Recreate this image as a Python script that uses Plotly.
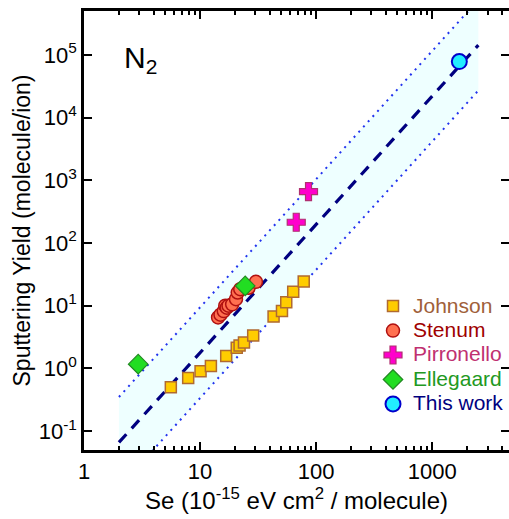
import plotly.graph_objects as go

# ---- data ----
johnson_se = [5.6, 7.9, 10.1, 12.4, 16.8, 20.7, 21.9, 23.9, 28.7, 43, 50.8, 55.3, 63.5, 78.2]
johnson_y = [0.50, 0.70, 0.90, 1.09, 1.57, 2.14, 2.32, 2.59, 3.35, 6.7, 8.2, 11.4, 16.7, 24.3]

stenum_se = [14.3, 15.0, 16.0, 16.5, 17.0, 17.6, 18.9, 20.4, 21.1, 22.2, 26.2, 30.3]
stenum_y = [6.5, 7.2, 8.2, 10.0, 9.3, 10.0, 10.5, 12.7, 16.2, 18.3, 19.3, 24.0]

pirronello_se = [67.4, 86]
pirronello_y = [214, 658]

ellegaard_se = [2.93, 24.5]
ellegaard_y = [1.17, 20.7]

thiswork_se = [1714]
thiswork_y = [7.8e4]
thiswork_err_plus = [1.5e4]
thiswork_err_minus = [1.2e4]

fit_se = [2, 2500]
fit_y = [0.066, 1.43e5]
band_upper = [0.35, 7.5e5]
band_lower = [0.0125, 2.7e4]

x_tickvals = [1, 10, 100, 1000]
x_ticktext = ["1", "10", "100", "1000"]
y_tickvals = [0.1, 1, 10, 100, 1000, 1e4, 1e5]
y_ticktext = ["10<sup>-1</sup>", "10<sup>0</sup>", "10<sup>1</sup>", "10<sup>2</sup>",
              "10<sup>3</sup>", "10<sup>4</sup>", "10<sup>5</sup>"]

FONT = "Liberation Sans, Arial, Helvetica, sans-serif"


def legend_label(text, color):
    return f"<span style='color:{color};font-size:21px'>{text}</span>"


fig = go.Figure()

# shaded band
fig.add_trace(go.Scatter(x=fit_se, y=band_lower, mode="lines", line=dict(width=0),
                         showlegend=False, hoverinfo="skip"))
fig.add_trace(go.Scatter(x=fit_se, y=band_upper, mode="lines", line=dict(width=0),
                         fill="tonexty", fillcolor="#EEFFFF", showlegend=False, hoverinfo="skip"))
# dotted bounds
for yy in (band_upper, band_lower):
    fig.add_trace(go.Scatter(x=fit_se, y=yy, mode="lines",
                             line=dict(color="#2233EE", width=2, dash="2px,5px"),
                             showlegend=False, hoverinfo="skip"))
# dashed fit
fig.add_trace(go.Scatter(x=fit_se, y=fit_y, mode="lines",
                         line=dict(color="#000080", width=3.2, dash="11px,8px"),
                         showlegend=False, hoverinfo="skip"))

fig.add_trace(go.Scatter(
    x=johnson_se, y=johnson_y, mode="markers",
    name=legend_label("Johnson", "#A0603A"),
    marker=dict(symbol="square", size=11, color="#FFCC00", line=dict(color="#B06A30", width=1.5))))
fig.add_trace(go.Scatter(
    x=stenum_se, y=stenum_y, mode="markers",
    name=legend_label("Stenum", "#A00000"),
    marker=dict(symbol="circle", size=13, color="#FF7050", line=dict(color="#B01010", width=1.5))))
fig.add_trace(go.Scatter(
    x=pirronello_se, y=pirronello_y, mode="markers",
    name=legend_label("Pirronello", "#C03070"),
    marker=dict(symbol="cross", size=15, color="#FF00CC", line=dict(color="#B03070", width=1.2))))
fig.add_trace(go.Scatter(
    x=ellegaard_se, y=ellegaard_y, mode="markers",
    name=legend_label("Ellegaard", "#229922"),
    marker=dict(symbol="diamond", size=15, color="#22DD22", line=dict(color="#228822", width=1.2))))
fig.add_trace(go.Scatter(
    x=thiswork_se, y=thiswork_y, mode="markers",
    name=legend_label("This work", "#000080"),
    error_y=dict(type="data", array=thiswork_err_plus, arrayminus=thiswork_err_minus,
                 color="black", thickness=3, width=3),
    marker=dict(symbol="circle", size=15, color="#22EEFF", line=dict(color="#0000CC", width=2))))

axis_common = dict(
    type="log", showgrid=False, zeroline=False, showline=True, linecolor="black",
    linewidth=2.5, mirror="allticks", ticks="inside", tickcolor="black", tickwidth=2,
    tickfont=dict(family=FONT, size=22, color="black"), automargin=False,
)

fig.update_xaxes(**axis_common, range=[0, 3.662], tickvals=x_tickvals, ticktext=x_ticktext,
                 ticklen=8,
                 minor=dict(ticks="inside", ticklen=4, tickwidth=1.5, tickcolor="black",
                            dtick="D1", showgrid=False),
                 title=dict(text="Se (10<sup>-15</sup> eV cm<sup>2</sup> / molecule)",
                            font=dict(family=FONT, size=24, color="black"), standoff=0))
fig.update_yaxes(**axis_common, range=[-1.301, 5.699], tickvals=y_tickvals, ticktext=y_ticktext,
                 ticklen=8,
                 title=dict(text="Sputtering Yield (molecule/ion)",
                            font=dict(family=FONT, size=23, color="black"), standoff=2))

fig.add_annotation(text="N<sub>2</sub>", x=0.09, y=0.89, xref="paper", yref="paper",
                   xanchor="left", yanchor="middle", showarrow=False,
                   font=dict(family=FONT, size=30, color="black"))

fig.update_layout(
    template="none",
    width=509, height=519,
    margin=dict(l=84, r=0, t=11, b=69, pad=0),
    paper_bgcolor="white", plot_bgcolor="white",
    showlegend=True,
    legend=dict(x=0.68, y=0.367, xanchor="left", yanchor="top", traceorder="normal",
                bgcolor="rgba(0,0,0,0)", borderwidth=0,
                font=dict(family=FONT, size=16.5), itemwidth=30,
                tracegroupgap=0),
    font=dict(family=FONT),
)

fig.write_html("out.html", config={"displayModeBar": False},
               post_script="document.body.style.margin='0';")
